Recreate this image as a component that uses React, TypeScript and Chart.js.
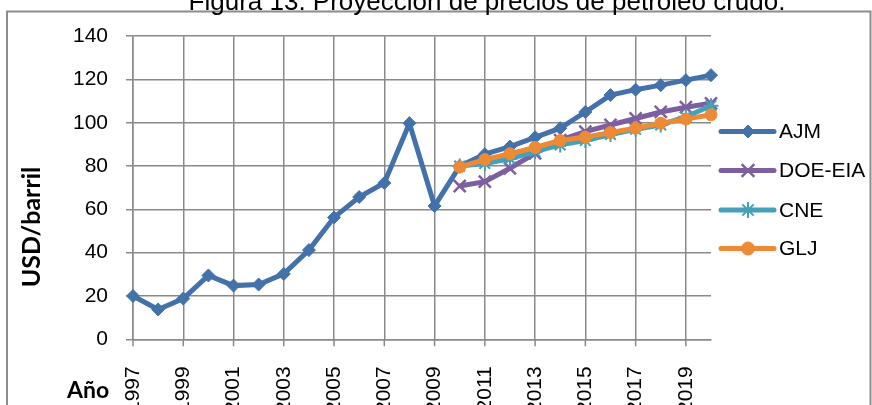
import React, { useEffect, useRef } from "react";
import { Chart, registerables } from "chart.js";
import { drawPoint } from "chart.js/helpers";

Chart.register(...registerables);

// Years on the category axis
const years: string[] = [
  "1997", "1998", "1999", "2000", "2001", "2002", "2003", "2004",
  "2005", "2006", "2007", "2008", "2009", "2010", "2011", "2012",
  "2013", "2014", "2015", "2016", "2017", "2018", "2019", "2020",
];

// Historical + projected price (USD/barril), AJM
const ajm: number[] = [
  20, 13.8, 18.8, 29.5, 24.8, 25.3, 30.2, 41.2, 56.3, 65.7, 72.2, 99.8,
  61.6, 80, 85.5, 89, 93.3, 97.5, 105, 112.8, 115.3, 117.4, 119.7, 122,
];

// Projections 2010-2020
const doeEia: number[] = [70.8, 72.8, 79, 85.9, 92, 95.9, 99, 102, 105, 107.2, 109];
const cne: number[] = [80, 81.2, 83.4, 86.7, 89.8, 91.8, 94.6, 97, 99, 102.8, 107.9];
const glj: number[] = [79.6, 83, 85.7, 88.6, 91.8, 93.4, 95.5, 97.5, 99.8, 101.7, 103.7];

const projectionStart = 2010;

const yTicks = { min: 0, max: 140, step: 20 };

const title = "Figura 13. Proyección de precios de petróleo crudo.";
const yTitle = "USD/barril";
const xTitle = "Año";

const COLORS = {
  ajm: "#4371AA",
  doe: "#7D5FA0",
  cne: "#45A0BA",
  glj: "#EC8A35",
  grid: "#8A8A8A",
  frame: "#8C8C8C",
};

// Canvas is shifted up so the caption sits partly above the window
const SHIFT = 20;
const W = 872;
const H = 450;
const X_TICK_MARK = 7;

function padProjection(values: number[]): (number | null)[] {
  const lead = years.indexOf(String(projectionStart));
  return years.map((_, i) => (i >= lead ? values[i - lead] : null));
}

const legendItems = [
  { label: "AJM", color: COLORS.ajm, style: "rectRot", radius: 6.5, bw: 1 },
  { label: "DOE-EIA", color: COLORS.doe, style: "crossRot", radius: 9, bw: 2.5 },
  { label: "CNE", color: COLORS.cne, style: "star", radius: 8, bw: 2 },
  { label: "GLJ", color: COLORS.glj, style: "circle", radius: 6.5, bw: 1 },
];

const decorations = {
  id: "decorations",
  afterDraw(chart: Chart) {
    const ctx = chart.ctx;
    const xScale: any = chart.scales.x;
    ctx.save();

    // short tick marks under the category axis (every other year)
    ctx.strokeStyle = COLORS.grid;
    ctx.lineWidth = 1.5;
    ctx.beginPath();
    years.forEach((_, i) => {
      if (i % 2 !== 0) return;
      const px = xScale.getPixelForTick(i);
      ctx.moveTo(px, xScale.top);
      ctx.lineTo(px, xScale.top + X_TICK_MARK);
    });
    ctx.stroke();

    // outer frame
    ctx.strokeStyle = COLORS.frame;
    ctx.lineWidth = 2;
    ctx.strokeRect(7, 11.5 + SHIFT, 863.5, 500);

    // caption
    ctx.fillStyle = "#000";
    ctx.font = '26px "Liberation Sans", Arial, sans-serif';
    ctx.textAlign = "center";
    ctx.textBaseline = "alphabetic";
    ctx.fillText(title, 487, 9.5 + SHIFT);

    // y axis title
    ctx.save();
    ctx.translate(32, 227 + SHIFT);
    ctx.rotate(-Math.PI / 2);
    ctx.font = 'bold 25px Lato, "Liberation Sans", sans-serif';
    ctx.textAlign = "center";
    ctx.textBaseline = "middle";
    ctx.fillText(yTitle, 0, 0);
    ctx.restore();

    // x axis title
    ctx.font = 'bold 23px Lato, "Liberation Sans", sans-serif';
    ctx.textAlign = "left";
    ctx.textBaseline = "alphabetic";
    ctx.fillText(xTitle, 67, 398 + SHIFT);

    // legend
    const rowY = [131.5, 170.5, 210, 248.5];
    legendItems.forEach((item, i) => {
      const y = rowY[i] + SHIFT;
      ctx.strokeStyle = item.color;
      ctx.lineWidth = 5;
      ctx.lineCap = "round";
      ctx.beginPath();
      ctx.moveTo(721, y);
      ctx.lineTo(774, y);
      ctx.stroke();
      ctx.lineCap = "butt";
      ctx.fillStyle = item.color;
      ctx.strokeStyle = item.color;
      ctx.lineWidth = item.bw;
      drawPoint(ctx, { pointStyle: item.style as any, radius: item.radius, rotation: 0, borderWidth: item.bw }, 748, y);
      ctx.fillStyle = "#000";
      ctx.font = '21px "Liberation Sans", Arial, sans-serif';
      ctx.textAlign = "left";
      ctx.textBaseline = "middle";
      ctx.fillText(item.label, 779, y + 1);
    });

    ctx.restore();
  },
};

export default function App() {
  const canvasRef = useRef<HTMLCanvasElement | null>(null);

  useEffect(() => {
    const canvas = canvasRef.current;
    if (!canvas) return;

    const lineDs = (label: string, data: (number | null)[], color: string, style: string, radius: number, bw: number, order: number) => ({
      label,
      data,
      borderColor: color,
      backgroundColor: color,
      borderWidth: 5,
      pointStyle: style,
      pointRadius: radius,
      pointBorderWidth: bw,
      pointBackgroundColor: color,
      pointBorderColor: color,
      tension: 0,
      spanGaps: false,
      order,
    });

    const chart = new Chart(canvas, {
      type: "line",
      data: {
        labels: years,
        datasets: [
          lineDs("AJM", ajm, COLORS.ajm, "rectRot", 6.5, 1, 3),
          lineDs("DOE-EIA", padProjection(doeEia), COLORS.doe, "crossRot", 8.5, 2.5, 2),
          lineDs("CNE", padProjection(cne), COLORS.cne, "star", 7.5, 2, 1),
          lineDs("GLJ", padProjection(glj), COLORS.glj, "circle", 6, 1, 0),
        ],
      },
      options: {
        responsive: false,
        animation: false,
        devicePixelRatio: 1,
        layout: { padding: { left: 0, right: W - 711, top: 36.2 + SHIFT, bottom: 0 } },
        plugins: {
          legend: { display: false },
          title: { display: false },
          tooltip: { enabled: false },
        },
        scales: {
          x: {
            type: "category",
            offset: false,
            afterFit(scale: any) {
              scale.height = H - (339.3 + SHIFT);
            },
            grid: {
              color: (c: any) => (c.index % 2 === 0 ? COLORS.grid : "rgba(0,0,0,0)"),
              lineWidth: 1.5,
              tickLength: 27,
              tickColor: "rgba(0,0,0,0)",
              drawTicks: true,
            },
            border: { display: true, color: COLORS.grid, width: 1.5 },
            ticks: {
              autoSkip: false,
              minRotation: 90,
              maxRotation: 90,
              padding: 0,
              color: "#000",
              font: { family: '"Liberation Sans", Arial, sans-serif', size: 21 },
              callback: (_v: any, i: number) => (i % 2 === 0 ? years[i] : ""),
            },
          },
          y: {
            min: yTicks.min,
            max: yTicks.max,
            afterFit(scale: any) {
              scale.width = 133;
            },
            grid: {
              color: COLORS.grid,
              lineWidth: 1.5,
              tickLength: 7,
              drawTicks: true,
            },
            border: { display: true, color: COLORS.grid, width: 1.5 },
            ticks: {
              stepSize: yTicks.step,
              padding: 18,
              color: "#000",
              font: { family: '"Liberation Sans", Arial, sans-serif', size: 21 },
            },
          },
        },
      },
      plugins: [decorations],
    });

    return () => chart.destroy();
  }, []);

  return (
    <div style={{ position: "fixed", left: 0, top: -SHIFT, width: W, height: H, background: "#fff" }}>
      <canvas ref={canvasRef} width={W} height={H} style={{ width: W, height: H, display: "block" }} />
    </div>
  );
}
